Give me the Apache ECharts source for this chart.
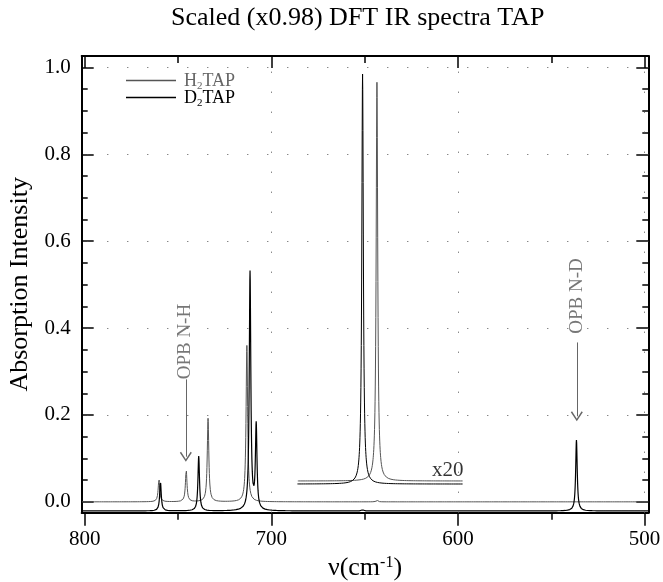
<!DOCTYPE html>
<html>
<head>
<meta charset="utf-8">
<title>Scaled (x0.98) DFT IR spectra TAP</title>
<script src="https://cdn.jsdelivr.net/npm/echarts@6/dist/echarts.min.js"></script>
<style>
  html, body { margin: 0; padding: 0; background: #fff; }
  #main { width: 663px; height: 582px; }
</style>
</head>
<body>
<div id="main"></div>
<script>
// axis ranges and ticks
const xRange = [498, 801.6]
const yRange = [-0.025, 1.0265]
const xMajorTicks = [800, 700, 600, 500]
const xMinorTicks = [750, 650, 550]
const xGridLines = [700, 600, 500]
const yMajorTicks = [0, 0.2, 0.4, 0.6, 0.8, 1.0]
const yMinorTicks = [0.05, 0.1, 0.15, 0.25, 0.3, 0.35, 0.45, 0.5, 0.55, 0.65, 0.7, 0.75, 0.85, 0.9, 0.95]
const yGridLines = [0.2, 0.4, 0.6, 0.8, 1.0]

// H2TAP bands: position (cm-1), height above baseline
const h2Pos = [760.2, 745.6, 733.9, 713.1, 643.4]
const h2Int = [0.052, 0.073, 0.192, 0.360, 0.004]
const h2Base = 0

// D2TAP bands
const d2Pos = [759.4, 738.9, 711.4, 708.1, 651.1, 536.5]
const d2Int = [0.067, 0.126, 0.549, 0.194, 0.004, 0.163]
const d2Base = -0.021

// x20 inset (685-598 cm-1)
const insetRange = [686, 597.5]
const insetH2Pos = [643.4]
const insetH2Int = [0.918]
const insetH2Base = 0.048
const insetD2Pos = [651.1]
const insetD2Int = [0.944]
const insetD2Base = 0.041

// annotations
const bandLabels = [
  { text: 'OPB N-H', x: 746, y: 0.369, arrowFrom: 0.282, arrowTo: 0.104, arrowX: 745.8 },
  { text: 'OPB N-D', x: 536, y: 0.474, arrowFrom: 0.367, arrowTo: 0.197, arrowX: 536.3 },
]
const scaleLabel = { text: 'x20', x: 605.5, y: 0.073 }

const HWHM = 0.5
const STEP = 0.1

// lorentzian-broadened band list
function spectrum(pos, height, base, from, to, hwhm) {
  const lo = Math.min(from, to)
  const hi = Math.max(from, to)
  const n = Math.round((hi - lo) / STEP)
  const xs = []
  for (let i = 0; i <= n; i++) xs.push(lo + i * STEP)
  pos.forEach(p => { if (p >= lo && p <= hi) xs.push(p) })
  xs.sort((a, b) => a - b)
  return xs.map(x => {
    let y = base
    for (let k = 0; k < pos.length; k++) {
      const d = x - pos[k]
      y += height[k] * hwhm * hwhm / (d * d + hwhm * hwhm)
    }
    return [x, y]
  })
}

const serif = 'Liberation Serif'
const arrowPath = 'path://M5,0 L10,9 L9,10 L5,2.5 L1,10 L0,9 Z'

const myChart = echarts.init(document.getElementById('main'))

function xAxisOf(position, ticks, len, inside, withLabel, withLine) {
  return {
    type: 'value',
    position: position,
    inverse: true,
    min: xRange[0],
    max: xRange[1],
    axisLine: { show: withLine, onZero: false, lineStyle: { color: '#000', width: 2 } },
    axisTick: { show: true, inside: inside, length: len, customValues: ticks, lineStyle: { color: '#000', width: 1.5 } },
    axisLabel: withLabel
      ? { show: true, customValues: ticks, margin: 16, color: '#000', fontFamily: serif, fontSize: 21 }
      : { show: false },
    splitLine: { show: false },
  }
}

function yAxisOf(position, ticks, len, withLabel, withLine) {
  return {
    type: 'value',
    position: position,
    min: yRange[0],
    max: yRange[1],
    axisLine: { show: withLine, onZero: false, lineStyle: { color: '#000', width: 2 } },
    axisTick: { show: true, inside: true, length: len, customValues: ticks, lineStyle: { color: '#000', width: 1.5 } },
    axisLabel: withLabel
      ? { show: true, customValues: ticks, margin: 11, color: '#000', fontFamily: serif, fontSize: 21,
          formatter: v => v.toFixed(1) }
      : { show: false },
    splitLine: { show: false },
  }
}

const xAxes = [
  xAxisOf('bottom', xMajorTicks, 13, false, true, true),
  xAxisOf('bottom', xMinorTicks, 7, false, false, false),
  xAxisOf('top', xMajorTicks, 12, true, false, true),
  xAxisOf('top', xMinorTicks, 7, true, false, false),
]
xAxes[0].name = '{a|ν(cm}{s|-1}{a|)}'
xAxes[0].nameLocation = 'middle'
xAxes[0].nameGap = 36
xAxes[0].nameTextStyle = {
  rich: {
    a: { fontFamily: serif, fontSize: 26, color: '#000' },
    s: { fontFamily: serif, fontSize: 16, color: '#000', padding: [0, 0, 12, 0] },
  },
}

const yAxes = [
  yAxisOf('left', yMajorTicks, 12, true, true),
  yAxisOf('left', yMinorTicks, 6, false, false),
  yAxisOf('right', yMajorTicks, 12, false, true),
  yAxisOf('right', yMinorTicks, 6, false, false),
]
yAxes[0].name = 'Absorption Intensity'
yAxes[0].nameLocation = 'middle'
yAxes[0].nameGap = 46
yAxes[0].nameTextStyle = { fontFamily: serif, fontSize: 26, color: '#000' }

const lineSeries = (name, data, color, width) => ({
  name: name,
  type: 'line',
  data: data,
  showSymbol: false,
  symbol: 'none',
  sampling: 'none',
  silent: true,
  lineStyle: { color: color, width: width },
  itemStyle: { color: color },
})

const gridMarks = []
yGridLines.forEach(v => gridMarks.push({ yAxis: v }))
xGridLines.forEach(v => gridMarks.push({ xAxis: v }))

const subStyle = (color) => ({
  fontFamily: serif, fontSize: 11, color: color, lineHeight: 11,
  verticalAlign: 'top', padding: [9, 0, 0, 0],
})
const mainStyle = (color) => ({
  fontFamily: serif, fontSize: 18, color: color, lineHeight: 17, verticalAlign: 'top',
})

const option = {
  animation: false,
  backgroundColor: '#fff',
  title: {
    text: 'Scaled (x0.98) DFT IR spectra TAP',
    left: 166,
    top: 0,
    textStyle: { fontFamily: serif, fontSize: 26, fontWeight: 'normal', color: '#000' },
  },
  legend: {
    data: ['H2TAP', 'D2TAP'],
    orient: 'vertical',
    left: 121,
    top: 67,
    itemWidth: 50,
    itemHeight: 1.5,
    itemGap: -3,
    icon: 'rect',
    formatter: name => (name === 'H2TAP' ? '{g|H}{gs|2}{g|TAP}' : '{k|D}{ks|2}{k|TAP}'),
    textStyle: {
      padding: [0, 0, 0, 3],
      rich: {
        g: mainStyle('#666'),
        gs: subStyle('#666'),
        k: mainStyle('#000'),
        ks: subStyle('#000'),
      },
    },
  },
  grid: { left: 81.7, right: 14.7, top: 56, bottom: 69.3, outerBoundsMode: 'none', containLabel: false },
  xAxis: xAxes,
  yAxis: yAxes,
  series: [
    {
      name: 'grid',
      type: 'scatter',
      data: [],
      silent: true,
      markLine: {
        silent: true,
        symbol: 'none',
        label: { show: false },
        lineStyle: { color: '#555', width: 1, type: [1, 19] },
        data: gridMarks,
      },
    },
    lineSeries('H2TAP', spectrum(h2Pos, h2Int, h2Base, xRange[0], xRange[1], HWHM), '#555', 1),
    lineSeries('D2TAP', spectrum(d2Pos, d2Int, d2Base, xRange[0], xRange[1], HWHM), '#000', 1.2),
    lineSeries('H2TAP x20', spectrum(insetH2Pos, insetH2Int, insetH2Base, insetRange[0], insetRange[1], HWHM), '#555', 1),
    lineSeries('D2TAP x20', spectrum(insetD2Pos, insetD2Int, insetD2Base, insetRange[0], insetRange[1], HWHM), '#000', 1),
    {
      name: 'labels',
      type: 'scatter',
      symbolSize: 0,
      silent: true,
      data: bandLabels.map(b => ({
        value: [b.x, b.y],
        label: {
          show: true, position: 'inside', rotate: 90, formatter: b.text,
          fontFamily: serif, fontSize: 19, color: '#555',
        },
      })).concat([{
        value: [scaleLabel.x, scaleLabel.y],
        label: {
          show: true, position: 'inside', formatter: scaleLabel.text,
          fontFamily: serif, fontSize: 21, color: '#000',
        },
      }]),
      markLine: {
        silent: true,
        symbol: ['none', arrowPath],
        symbolSize: [12, 10],
        label: { show: false },
        lineStyle: { color: '#666', width: 1, type: 'solid' },
        data: bandLabels.map(b => [
          { coord: [b.arrowX, b.arrowFrom] },
          { coord: [b.arrowX, b.arrowTo] },
        ]),
      },
    },
  ],
}

option && myChart.setOption(option)
</script>
</body>
</html>
